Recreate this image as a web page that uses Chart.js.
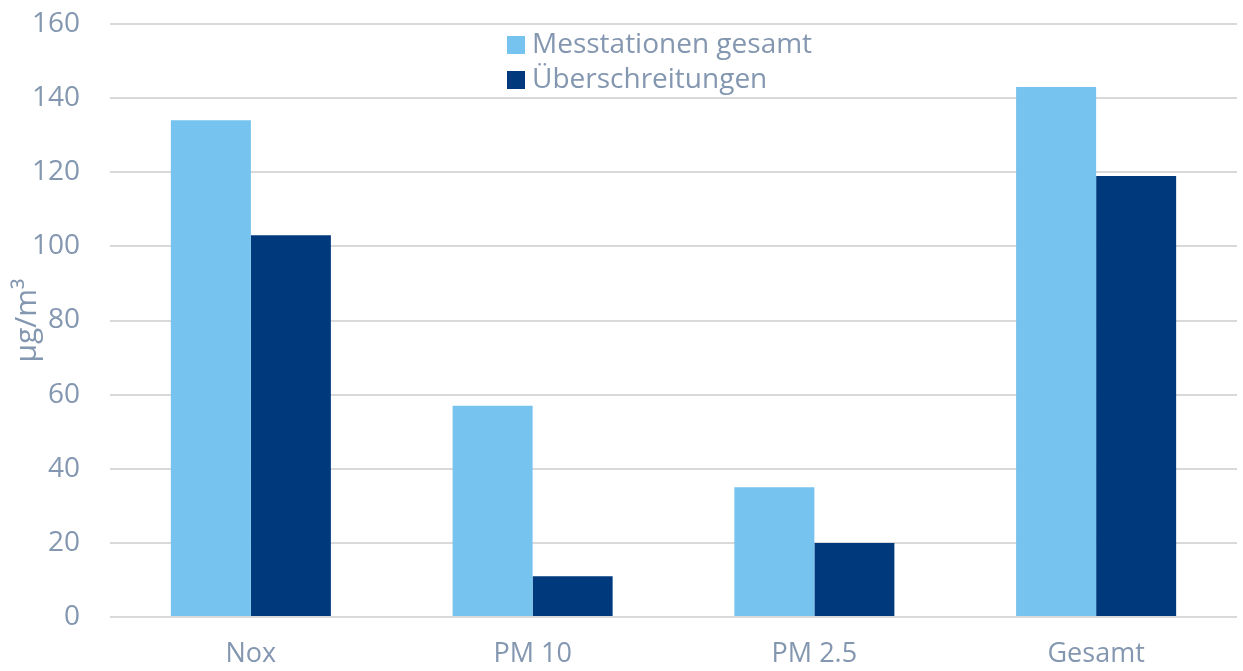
<!DOCTYPE html>
<html><head><meta charset="utf-8">
<script src="https://cdn.jsdelivr.net/npm/chart.js@4"></script>
<style>html,body{margin:0;padding:0;background:#fff}#wrap{width:1243px;height:671px}</style>
</head><body><div id="wrap"><canvas id="c" width="1243" height="671"></canvas></div>
<script>
const categories = ["Nox", "PM 10", "PM 2.5", "Gesamt"];
const seriesNames = ["Messtationen gesamt", "Überschreitungen"];
const messstationen = [134, 57, 35, 143];
const ueberschreitungen = [103, 11, 20, 119];
const yTicks = [0, 20, 40, 60, 80, 100, 120, 140, 160];
const yTitle = "µg/m³";

const textColor = "#8497B0";
const colors = ["#75C3EE", "#003A7D"];

const overlay = {
  id: "overlay",
  afterDraw(chart) {
    const ctx = chart.ctx;
    const a = chart.chartArea;
    ctx.save();
    ctx.fillStyle = textColor;
    ctx.font = "30px 'Open Sans', sans-serif";
    ctx.translate(27, (a.top + a.bottom) / 2);
    ctx.rotate(-Math.PI / 2);
    ctx.textAlign = "center";
    ctx.textBaseline = "middle";
    ctx.fillText(yTitle, 0, 0);
    ctx.restore();
    ctx.save();
    ctx.font = "28px 'Open Sans', sans-serif";
    ctx.textBaseline = "middle";
    chart.data.datasets.forEach((ds, i) => {
      const y = 45 + i * 35;
      ctx.fillStyle = ds.backgroundColor;
      ctx.fillRect(507, y - 9, 18, 18);
      ctx.fillStyle = textColor;
      ctx.fillText(ds.label, 532, y);
    });
    ctx.restore();
  }
};

new Chart(document.getElementById("c"), {
  type: "bar",
  data: {
    labels: categories,
    datasets: [
      { label: seriesNames[0], data: messstationen, backgroundColor: colors[0] },
      { label: seriesNames[1], data: ueberschreitungen, backgroundColor: colors[1] }
    ]
  },
  options: {
    responsive: false,
    animation: false,
    devicePixelRatio: 1,
    layout: { padding: { top: 24, right: 6, left: 0, bottom: 0 } },
    datasets: { bar: { categoryPercentage: 0.568, barPercentage: 1.0 } },
    plugins: { legend: { display: false }, tooltip: { enabled: false } },
    scales: {
      x: {
        grid: { display: false },
        border: { display: false },
        ticks: { color: textColor, font: { family: "'Open Sans', sans-serif", size: 27 }, padding: 13 },
        afterFit(s) { s.height = 54; s.paddingLeft = 0; s.paddingRight = 0; }
      },
      y: {
        min: 0, max: 160,
        afterBuildTicks(s) { s.ticks = yTicks.map(v => ({ value: v })); },
        grid: { color: "#D9D9D9", lineWidth: 2, drawTicks: false },
        border: { display: false },
        ticks: { color: textColor, font: { family: "'Open Sans', sans-serif", size: 28 }, padding: 30 },
        afterFit(s) { s.width = 110; s.paddingTop = 0; s.paddingBottom = 0; }
      }
    }
  },
  plugins: [overlay]
});
</script>
</body></html>
